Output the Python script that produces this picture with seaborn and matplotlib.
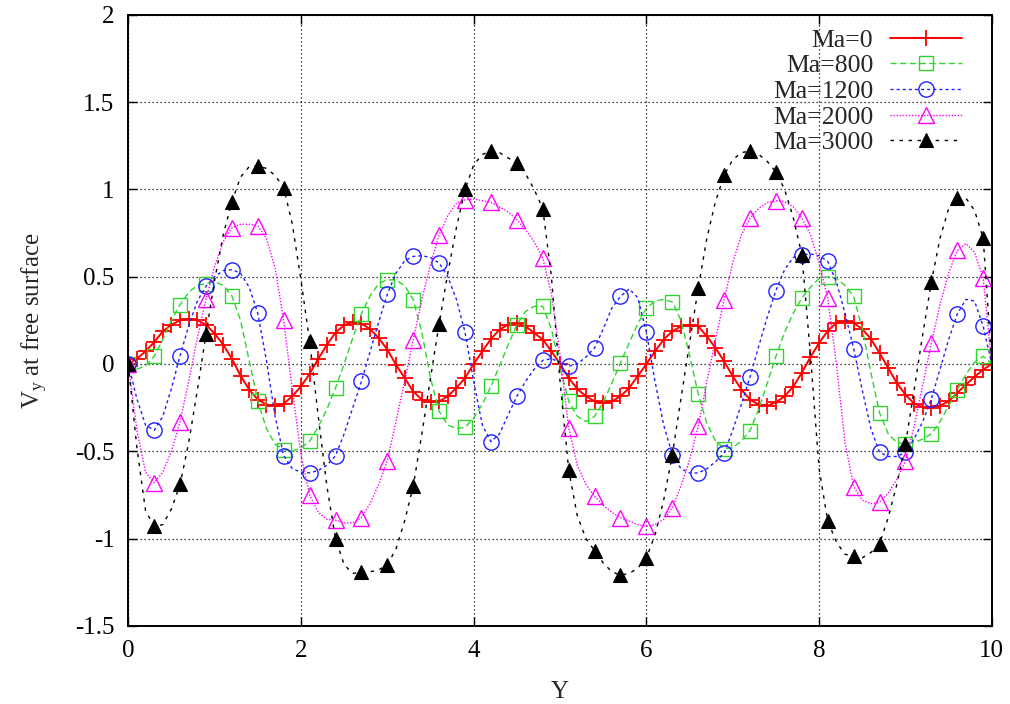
import numpy as np
import pandas as pd
import matplotlib
matplotlib.use('Agg')
import matplotlib.pyplot as plt
import seaborn as sns

# sample positions along the free surface (every 0.1)
y_pos = np.round(np.linspace(0, 10, 101), 1)

ma0 = [0.00, 0.03, 0.073, 0.124, 0.187, 0.225, 0.25, 0.258, 0.25, 0.225,
       0.174, 0.11, 0.03, -0.067, -0.147, -0.204, -0.233, -0.242, -0.227, -0.185,
       -0.128, -0.057, 0.03, 0.11, 0.18, 0.222, 0.239, 0.231, 0.20, 0.149,
       0.082, -0.004, -0.08, -0.158, -0.204, -0.219, -0.214, -0.185, -0.137, -0.08,
       0.00, 0.073, 0.143, 0.197, 0.225, 0.235, 0.216, 0.178, 0.14, 0.073,
       0.00, -0.08, -0.143, -0.185, -0.214, -0.223, -0.214, -0.185, -0.137, -0.07,
       0.00, 0.073, 0.14, 0.187, 0.216, 0.225, 0.216, 0.158, 0.092, 0.015,
       -0.07, -0.147, -0.204, -0.233, -0.239, -0.22, -0.185, -0.13, -0.05, 0.04,
       0.12, 0.19, 0.235, 0.244, 0.235, 0.20, 0.143, 0.063, -0.023, -0.109,
       -0.176, -0.227, -0.246, -0.252, -0.239, -0.214, -0.166, -0.118, -0.074, -0.032,
       0.00]

ma800 = [0.00, -0.03, -0.01, 0.044, 0.14, 0.25, 0.34, 0.41, 0.45, 0.46,
         0.47, 0.45, 0.39, 0.25, 0.02, -0.214, -0.37, -0.46, -0.49, -0.50,
         -0.48, -0.443, -0.36, -0.26, -0.137, 0.00, 0.15, 0.288, 0.39, 0.46,
         0.483, 0.48, 0.45, 0.368, 0.18, -0.08, -0.271, -0.35, -0.37, -0.363,
         -0.31, -0.23, -0.128, -0.01, 0.11, 0.225, 0.30, 0.33, 0.33, 0.20,
         -0.02, -0.214, -0.30, -0.33, -0.30, -0.22, -0.11, 0.006, 0.12, 0.23,
         0.32, 0.36, 0.37, 0.355, 0.25, 0.05, -0.172, -0.34, -0.44, -0.485,
         -0.48, -0.44, -0.382, -0.26, -0.11, 0.044, 0.18, 0.29, 0.378, 0.44,
         0.49, 0.50, 0.49, 0.45, 0.387, 0.20, -0.05, -0.28, -0.40, -0.45,
         -0.458, -0.45, -0.43, -0.40, -0.33, -0.24, -0.147, -0.06, 0.01, 0.044,
         0.00]

ma1200 = [0.00, -0.20, -0.35, -0.38, -0.30, -0.14, 0.048, 0.22, 0.36, 0.445,
          0.50, 0.535, 0.54, 0.52, 0.44, 0.29, 0.02, -0.30, -0.525, -0.60,
          -0.62, -0.624, -0.61, -0.58, -0.525, -0.40, -0.25, -0.10, 0.07, 0.24,
          0.40, 0.52, 0.59, 0.616, 0.62, 0.61, 0.578, 0.50, 0.37, 0.181,
          -0.10, -0.35, -0.445, -0.40, -0.29, -0.185, -0.10, -0.03, 0.021, 0.03,
          0.01, -0.013, 0.00, 0.04, 0.092, 0.20, 0.32, 0.387, 0.43, 0.38,
          0.181, -0.10, -0.35, -0.52, -0.60, -0.625, -0.624, -0.60, -0.56, -0.51,
          -0.38, -0.23, -0.074, 0.10, 0.27, 0.42, 0.54, 0.61, 0.626, 0.63,
          0.62, 0.588, 0.47, 0.29, 0.088, -0.15, -0.37, -0.506, -0.53, -0.53,
          -0.506, -0.43, -0.33, -0.20, -0.03, 0.14, 0.286, 0.37, 0.36, 0.216,
          0.00]

ma2000 = [0.00, -0.38, -0.62, -0.68, -0.62, -0.50, -0.33, -0.10, 0.15, 0.37,
          0.56, 0.70, 0.78, 0.80, 0.80, 0.79, 0.72, 0.55, 0.25, -0.15,
          -0.52, -0.75, -0.85, -0.89, -0.895, -0.91, -0.91, -0.88, -0.80, -0.69,
          -0.553, -0.33, -0.10, 0.14, 0.37, 0.57, 0.74, 0.85, 0.92, 0.94,
          0.945, 0.935, 0.925, 0.90, 0.87, 0.826, 0.77, 0.70, 0.607, 0.40,
          0.05, -0.366, -0.58, -0.69, -0.758, -0.81, -0.85, -0.88, -0.90, -0.92,
          -0.93, -0.92, -0.89, -0.824, -0.70, -0.55, -0.357, -0.10, 0.14, 0.368,
          0.58, 0.74, 0.836, 0.89, 0.925, 0.935, 0.93, 0.90, 0.836, 0.74,
          0.58, 0.378, 0.00, -0.45, -0.704, -0.78, -0.80, -0.792, -0.74, -0.66,
          -0.553, -0.36, -0.12, 0.12, 0.34, 0.52, 0.65, 0.69, 0.64, 0.49,
          0.00]

ma3000 = [0.00, -0.48, -0.84, -0.93, -0.92, -0.83, -0.69, -0.45, -0.15, 0.17,
          0.48, 0.74, 0.93, 1.07, 1.13, 1.135, 1.12, 1.08, 1.01, 0.80,
          0.48, 0.13, -0.30, -0.70, -1.00, -1.15, -1.20, -1.19, -1.19, -1.18,
          -1.15, -1.06, -0.90, -0.70, -0.40, -0.08, 0.23, 0.52, 0.78, 1.00,
          1.14, 1.20, 1.22, 1.21, 1.18, 1.15, 1.09, 1.00, 0.89, 0.50,
          -0.10, -0.605, -0.87, -1.00, -1.07, -1.14, -1.19, -1.21, -1.20, -1.17,
          -1.11, -0.98, -0.78, -0.52, -0.20, 0.12, 0.435, 0.72, 0.93, 1.08,
          1.17, 1.21, 1.22, 1.20, 1.16, 1.10, 1.00, 0.84, 0.626, 0.05,
          -0.60, -0.90, -1.02, -1.09, -1.10, -1.11, -1.08, -1.03, -0.88, -0.69,
          -0.46, -0.15, 0.17, 0.47, 0.72, 0.89, 0.95, 0.95, 0.88, 0.72,
          0.00]

labels = ['Ma=0', 'Ma=800', 'Ma=1200', 'Ma=2000', 'Ma=3000']
x_ticks = [0, 2, 4, 6, 8, 10]
x_ticklabels = ['0', '2', '4', '6', '8', '10']
y_ticks = [-1.5, -1, -0.5, 0, 0.5, 1, 1.5, 2]
y_ticklabels = ['-1.5', '-1', '-0.5', '0', '0.5', '1', '1.5', '2']

sns.set_theme(style='ticks')
plt.rcParams['font.family'] = ['Liberation Serif', 'DejaVu Serif']
plt.rcParams['mathtext.fontset'] = 'custom'
plt.rcParams['mathtext.rm'] = 'Liberation Serif'
plt.rcParams['axes.unicode_minus'] = False

fig = plt.figure(figsize=(10.1, 7.04), dpi=100)
ax = fig.add_axes([0.127, 0.111, 0.855, 0.868])

df = pd.DataFrame({'Y': y_pos, 'Ma=0': ma0, 'Ma=800': ma800, 'Ma=1200': ma1200,
                   'Ma=2000': ma2000, 'Ma=3000': ma3000})

# gnuplot-like line styles
styles = {
    'Ma=0': dict(color='#ff0000', lw=1.4, ls='-', marker='+', ms=12, mew=1.3,
                 mec='#ff0000', mfc='none', markevery=1),
    'Ma=800': dict(color='#2ed62e', lw=1.0, ls=(0, (4.5, 2.5)), marker='s', ms=10, mew=1.0,
                   mec='#2ed62e', mfc='none', markevery=3),
    'Ma=1200': dict(color='#1f1fff', lw=1.0, ls=(0, (2.2, 2.2)), marker='o', ms=11, mew=1.0,
                    mec='#1f1fff', mfc='none', markevery=3),
    'Ma=2000': dict(color='#ff00ff', lw=1.0, ls=(0, (1, 1.2)), marker='^', ms=11, mew=1.0,
                    mec='#ff00ff', mfc='none', markevery=3),
    'Ma=3000': dict(color='black', lw=1.0, ls=(0, (2.5, 4)), marker='^', ms=10, mew=0.8,
                    mec='black', mfc='black', markevery=3),
}

for lab in labels:
    st = styles[lab]
    sns.lineplot(data=df, x='Y', y=lab, ax=ax, label=lab, errorbar=None,
                 color=st['color'], linewidth=st['lw'], linestyle=st['ls'],
                 marker=st['marker'], markersize=st['ms'], mew=st['mew'],
                 mec=st['mec'], markerfacecolor=st['mfc'], markevery=st['markevery'])

ax.set_xlim(0, 10)
ax.set_ylim(-1.5, 2)
ax.set_xticks(x_ticks)
ax.set_xticklabels(x_ticklabels)
ax.set_yticks(y_ticks)
ax.set_yticklabels(y_ticklabels)
ax.grid(True, color='black', linestyle=(0, (1, 2.2)), linewidth=0.9)
ax.tick_params(direction='in', length=6.5, width=1, top=True, right=True,
               labelsize=18, colors='black', pad=10)
for sp in ax.spines.values():
    sp.set_color('black')
    sp.set_linewidth(1.4)

ax.set_xlabel('Y', fontsize=18, labelpad=14)
ax.set_ylabel(r'$\mathregular{V_y}$ at free surface', fontsize=18, labelpad=18)

leg = ax.legend(loc='upper right', frameon=False, markerfirst=False, fontsize=18.5,
                handlelength=2.8, handletextpad=0.66, labelspacing=0.1,
                borderaxespad=0.15, bbox_to_anchor=(0.982, 1.0))

fig.savefig('out.png', dpi=100, facecolor='white')
